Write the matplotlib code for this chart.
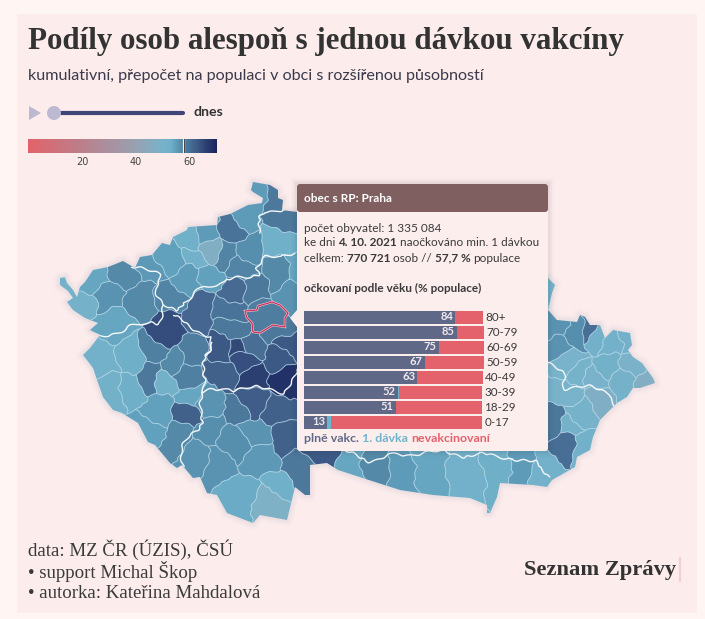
import numpy as np
import matplotlib
matplotlib.use('Agg')
import matplotlib.pyplot as plt
from matplotlib.colors import LinearSegmentedColormap, Normalize
from matplotlib.patches import Polygon, Rectangle, FancyBboxPatch, Circle

SANS = ['Lato', 'Noto Sans', 'DejaVu Sans']
SERIF = ['Liberation Serif', 'DejaVu Serif']

# =========================
# data
# =========================
age_groups = ['80+', '70-79', '60-69', '50-59', '40-49', '30-39', '18-29', '0-17']
full_dose = [84, 85, 75, 67, 63, 52, 51, 13]
first_dose = [0, 0, 0, 0, 0, 1, 0, 2]
no_dose = [15.4, 15, 25, 33, 36.4, 46, 48, 84]

cbar_ticks = [20, 40, 60]
selected_value = 57.7

# colour scale: value, colour
scale_values = [0, 20, 40, 50, 53, 55, 57, 60, 63, 66, 70]
scale_colors = ['#e2636a', '#bb808c', '#98a2b2', '#78b3cb', '#6fb0c8', '#5f9dbb',
                '#548aa9', '#486f96', '#3d5a86', '#2c4072', '#19265e']

country_x = [60, 65, 67, 73, 77, 80, 85, 93, 108, 123, 135, 140, 152, 162, 170, 173, 187, 188,
             217, 218, 230, 248, 262, 263, 253, 251, 253, 270, 278, 278, 283, 282, 297, 330,
             420, 500, 548, 548, 555, 552, 548, 557, 577, 580, 585, 590, 600, 605, 613, 630,
             632, 628, 633, 642, 653, 655, 640, 633, 627, 617, 613, 600, 593, 590, 577, 575,
             552, 547, 533, 500, 497, 490, 487, 487, 470, 433, 400, 375, 338, 327, 310, 310,
             305, 295, 287, 260, 253, 227, 217, 207, 200, 193, 182, 177, 170, 155, 148, 138,
             122, 113, 103, 97, 93, 83, 90, 100, 90, 98, 85, 73, 67, 73, 68, 60]
country_y = [278, 277, 283, 290, 297, 287, 282, 270, 267, 261, 268, 257, 255, 243, 245, 237, 230,
             227, 225, 217, 214, 205, 203, 198, 192, 190, 182, 185, 190, 198, 200, 210, 212, 225,
             255, 270, 280, 278, 285, 293, 310, 320, 322, 315, 317, 325, 325, 338, 330, 333,
             345, 350, 357, 363, 378, 383, 388, 388, 397, 403, 407, 420, 437, 450, 457, 467,
             480, 487, 485, 483, 497, 513, 513, 505, 498, 495, 490, 482, 470, 463, 465, 495,
             495, 487, 520, 515, 523, 513, 495, 493, 477, 478, 465, 468, 463, 445, 442, 423,
             413, 410, 397, 380, 368, 355, 348, 335, 330, 323, 318, 310, 302, 298, 291, 285]

# okresy: position on the map, share vaccinated
region_x = [83, 95, 107, 125, 140, 112, 172, 150, 170, 187, 192, 195, 208, 209, 232, 225, 247, 247,
            212, 243, 233, 255, 197, 168, 230, 232, 267, 280, 280, 277, 288, 250, 222, 243, 280,
            292, 297, 103, 132, 153, 173, 193, 150, 132, 167, 110, 188, 185, 190, 158, 150, 177,
            210, 208, 197, 220, 245, 258, 282, 277, 253, 238, 277, 253, 235, 217, 263, 300, 287,
            320, 240, 280, 270, 350, 375, 430, 465, 500, 520, 400, 557, 565, 570, 583, 580, 600,
            577, 567, 600, 573, 595, 613, 627, 610, 633, 645, 620, 597, 560, 557, 552, 567, 320,
            400, 480, 340, 440, 520, 350, 430, 545]
region_y = [305, 278, 298, 272, 298, 323, 297, 267, 258, 278, 240, 258, 233, 250, 230, 258, 250, 215,
            275, 268, 292, 288, 312, 330, 308, 332, 315, 275, 218, 240, 345, 347, 347, 350, 330,
            295, 272, 360, 357, 353, 363, 353, 377, 387, 382, 390, 395, 378, 412, 410, 430, 440,
            403, 428, 457, 373, 358, 377, 380, 360, 403, 412, 410, 433, 442, 463, 457, 470, 437,
            455, 497, 487, 503, 470, 470, 470, 470, 465, 465, 475, 427, 443, 427, 443, 413, 397,
            375, 363, 333, 333, 328, 343, 340, 367, 367, 382, 382, 380, 347, 327, 287, 390, 260,
            280, 300, 340, 350, 380, 410, 420, 468]
region_val = [51, 54, 56, 57, 57, 54, 57.5, 55.5, 54.5, 55, 52.5, 52, 55, 47, 59.5, 57.5, 56.5, 55,
              54.5, 57.5, 60.5, 59, 61, 64.5, 59.5, 59, 58.5, 57, 59, 52.5, 63, 60, 63, 65, 59,
              56, 54, 52, 53, 58, 57, 58.5, 59, 53, 51.5, 51.5, 54, 58, 62, 54.5, 54.5, 57,
              56, 56.5, 56, 62, 64, 66, 68, 63, 62.5, 59, 62, 56, 56.5, 56, 55.5, 59, 62,
              63, 53.5, 52.5, 48, 54, 57, 54, 52, 53, 55, 55, 59, 60, 51, 52, 50.5, 47.5,
              50.5, 50, 52, 56.5, 60, 52, 52, 51.5, 49, 47, 51, 49.5, 56, 56, 52, 50, 55,
              58, 56, 60, 60, 58, 58, 56, 52]

praha_x = [245, 257, 258, 272, 280, 288, 285, 285, 273, 260, 253, 252, 247]
praha_y = [311, 310, 306, 302, 305, 313, 318, 327, 325, 333, 332, 323, 318]
praha_val = 58.5

# hranice kraju
kraj_lines = [
    ([135, 147, 157, 158, 162, 167, 173, 183, 197, 220, 227, 247, 257, 258, 268, 280, 297],
     [268, 272, 275, 292, 307, 310, 313, 300, 292, 283, 278, 280, 275, 265, 257, 260, 250]),
    ([90, 100, 108, 123, 133, 147, 157, 162],
     [338, 335, 333, 330, 327, 320, 322, 308]),
    ([257, 263, 267, 270, 280, 297], [235, 215, 210, 210, 209, 212]),
    ([173, 187, 198, 208, 210], [317, 322, 330, 335, 355]),
    ([210, 207, 202, 203, 197, 185, 182], [340, 360, 377, 407, 433, 443, 465]),
    ([202, 217, 230, 250, 280, 293, 300], [392, 392, 388, 388, 392, 380, 372]),
    ([547, 563, 567, 587, 607, 617], [357, 373, 387, 388, 393, 403]),
    ([513, 533, 550, 552], [457, 463, 477, 480]),
    ([340, 375, 420, 470, 513], [452, 460, 452, 455, 457]),
]

# =========================
# helpers
# =========================


def clip_cell(i, xs, ys):
    # cell of one seed: cut a big box by the half planes to every other seed
    poly = [(0.0, 100.0), (705.0, 100.0), (705.0, 560.0), (0.0, 560.0)]
    p = np.array([xs[i], ys[i]], dtype=float)
    for j in range(len(xs)):
        if j == i:
            continue
        q = np.array([xs[j], ys[j]], dtype=float)
        n = q - p
        c = n @ ((p + q) / 2)
        new = []
        for k in range(len(poly)):
            a, b = np.array(poly[k]), np.array(poly[(k + 1) % len(poly)])
            da, db = n @ a - c, n @ b - c
            if da <= 0:
                new.append(tuple(a))
            if da * db < 0:
                new.append(tuple(a + (b - a) * da / (da - db)))
        poly = new
        if not poly:
            break
    return poly


def wavy(points, closed=True, step=2.5):
    # border shape only: same shift at same place, so neighbours still fit together
    pts = np.asarray(points, dtype=float)
    if closed:
        pts = np.vstack([pts, pts[:1]])
    out = []
    for a, b in zip(pts[:-1], pts[1:]):
        n = max(int(np.hypot(*(b - a)) / step), 1)
        for t in np.arange(n) / n:
            out.append(a + (b - a) * t)
    if not closed:
        out.append(pts[-1])
    out = np.array(out)
    x, y = out[:, 0], out[:, 1]
    dx = 2.6 * np.sin(y / 6.5 + x / 17) + 1.1 * np.sin(y / 2.1 - x / 3.3)
    dy = 2.6 * np.sin(x / 7.5 - y / 13) + 1.1 * np.sin(x / 2.3 + y / 3.1)
    return np.column_stack([x + dx, y + dy])


def rich(ax, x, y, parts, size, color='#3a3a3a'):
    # line with mixed weights and colours, pieces are put one after another
    r = ax.figure.canvas.get_renderer()
    for part in parts:
        txt, weight = part[0], part[1]
        col = part[2] if len(part) > 2 else color
        t = ax.text(x, y, txt, fontsize=size, fontweight=weight, color=col,
                    family=SANS, va='center', ha='left')
        x = t.get_window_extent(r).x1


# =========================
# figure
# =========================
fig = plt.figure(figsize=(7.05, 6.19), dpi=100, facecolor='#fff5f3')
ax = fig.add_axes([0, 0, 1, 1])
ax.set_xlim(0, 705)
ax.set_ylim(619, 0)
ax.axis('off')

ax.add_patch(Rectangle((17, 14), 680, 599, fc='#fcecec', ec='none', zorder=0))

ax.text(28, 42, 'Podíly osob alespoň s jednou dávkou vakcíny', fontsize=22.3, fontweight='bold',
        family=SERIF, color='#333333', va='center')
ax.text(28, 76, 'kumulativní, přepočet na populaci v obci s rozšířenou působností', fontsize=11.6,
        family=SANS, color='#3a3a4a', va='center')

# slider
ax.add_patch(Polygon([(29, 106), (41, 113), (29, 120)], fc='#bcb9d0', ec='none'))
ax.plot([54, 183], [113, 113], color='#3f4677', lw=3, solid_capstyle='round')
ax.add_patch(Circle((54, 113), 7, fc='#bcb9d0', ec='none', zorder=3))
ax.text(194, 112.5, 'dnes', fontsize=10.2, fontweight='bold', family=SANS, color='#333333', va='center')

# colour bar
cmap = LinearSegmentedColormap.from_list(
    'vacc', [(v / 70, c) for v, c in zip(scale_values, scale_colors)], N=256)
norm = Normalize(0, 70)
cax = fig.add_axes([28 / 705, 1 - 153 / 619, 189 / 705, 14 / 619])
cax.imshow(np.linspace(0, 70, 256)[None, :], cmap=cmap, norm=norm, aspect='auto', extent=[0, 70, 0, 1])
cax.axvline(selected_value, color='#fcecec', lw=1.6)
cax.axvline(selected_value, color='#444444', lw=0.7)
cax.set_xticks(cbar_ticks)
cax.set_yticks([])
cax.tick_params(length=0, labelsize=7, labelcolor='#444444', pad=3)
for s in cax.spines.values():
    s.set_visible(False)

# =========================
# map
# =========================
outline = np.column_stack([country_x, country_y])

# soft shadow around the country
for lw, alpha in [(9, 0.025), (6, 0.035), (3, 0.05)]:
    ax.add_patch(Polygon(outline, fc='none', ec='#7a8a99', lw=lw, alpha=alpha, joinstyle='round', zorder=1))

clip = Polygon(outline, fc='none', ec='none', transform=ax.transData, zorder=1)
ax.add_patch(clip)

for i in range(len(region_x)):
    cell = clip_cell(i, region_x, region_y)
    if len(cell) < 3:
        continue
    patch = Polygon(wavy(cell), fc=cmap(norm(region_val[i])), ec=(0.72, 0.86, 0.92, 0.65), lw=0.6, zorder=2)
    ax.add_patch(patch)
    patch.set_clip_path(clip)

for xs, ys in kraj_lines:
    w = wavy(np.column_stack([xs, ys]), closed=False, step=1.5)
    line, = ax.plot(w[:, 0], w[:, 1], color='#f4f8fa', lw=1.0, zorder=3)
    line.set_clip_path(clip)

praha = np.column_stack([praha_x, praha_y])
ax.add_patch(Polygon(praha, fc=cmap(norm(praha_val)), ec='#f3c9d4', lw=1.7, zorder=4))
ax.add_patch(Polygon(praha, fc='none', ec='#c8325c', lw=0.9, zorder=4))

# =========================
# tooltip
# =========================
for grow, alpha in [(6, 0.02), (4, 0.03), (2, 0.05)]:
    ax.add_patch(Rectangle((297 - grow, 184 - grow), 251 + 2 * grow, 267 + 2 * grow, fc='#333333',
                           ec='none', alpha=alpha, zorder=5))
ax.add_patch(FancyBboxPatch((299, 186), 247, 263, boxstyle='round,pad=2,rounding_size=3', fc='#fdeeee',
                            ec='none', zorder=6))
ax.add_patch(Polygon([(297, 310), (290, 318), (297, 327)], fc='#fdeeee', ec='none', zorder=6))
ax.add_patch(FancyBboxPatch((299, 186), 247, 24, boxstyle='round,pad=2,rounding_size=3', fc='#7f5f5f',
                            ec='none', zorder=7))
ax.text(304, 198.5, 'obec s RP: Praha', fontsize=8.6, fontweight='bold', family=SANS, color='white',
        va='center', zorder=8)

tip = fig.add_axes([0, 0, 1, 1], facecolor='none')
tip.set_xlim(0, 705)
tip.set_ylim(619, 0)
tip.axis('off')
rich(tip, 304, 228, [('počet obyvatel: 1 335 084', 'normal')], 8.5)
rich(tip, 304, 243, [('ke dni ', 'normal'), ('4. 10. 2021 ', 'bold'), ('naočkováno min. 1 dávkou', 'normal')], 8.5)
rich(tip, 304, 258, [('celkem: ', 'normal'), ('770 721 ', 'bold'), ('osob // ', 'normal'), ('57,7 % ', 'bold'),
                     ('populace', 'normal')], 8.5)
rich(tip, 304, 288, [('očkovaní podle věku (% populace)', 'bold')], 8.5)

# bars
bx = fig.add_axes([304 / 705, 1 - 430 / 619, 180 / 705, 120 / 619], facecolor='none')
ypos = np.arange(len(age_groups))
full = np.array(full_dose, dtype=float)
first = np.array(first_dose, dtype=float)
none = np.array(no_dose, dtype=float)
bx.barh(ypos, full, height=0.93, color='#606888')
bx.barh(ypos, first, left=full, height=0.93, color='#6fb3cd')
bx.barh(ypos, none, left=full + first, height=0.93, color='#e4626c')
for i in ypos:
    bx.text(full[i] - 1.2, i - 0.05, str(full_dose[i]), color='#f0e9ee', fontsize=8, fontweight='bold',
            family=SANS, ha='right', va='center')
    bx.text(full[i] + first[i] + none[i] + 1.2, i + 0.03, age_groups[i], color='#3a3a3a', fontsize=8.4,
            family=SANS, ha='left', va='center', clip_on=False)
bx.set_xlim(0, 100)
bx.set_ylim(len(age_groups) - 0.5, -0.5)
bx.axis('off')

rich(tip, 304, 439, [('plně vakc. ', 'bold', '#606888'), ('1. dávka ', 'bold', '#6fb3cd'),
                     ('nevakcinovaní', 'bold', '#e4626c')], 8.9)

# =========================
# footer
# =========================
ax.text(28, 550, 'data: MZ ČR (ÚZIS), ČSÚ', fontsize=13.6, family=SERIF, color='#3a3a3a', va='center')
ax.text(28, 571, '• support Michal Škop', fontsize=13.6, family=SERIF, color='#3a3a3a', va='center')
ax.text(28, 593, '• autorka: Kateřina Mahdalová', fontsize=13.6, family=SERIF, color='#3a3a3a', va='center')
ax.text(524, 570, 'Seznam Zprávy', fontsize=16.2, fontweight='bold', family=SERIF, color='#333333', va='center')
ax.plot([680, 680], [558, 581], color='#f2cfd2', lw=1.5)

fig.savefig('out.png', dpi=100, facecolor=fig.get_facecolor())
